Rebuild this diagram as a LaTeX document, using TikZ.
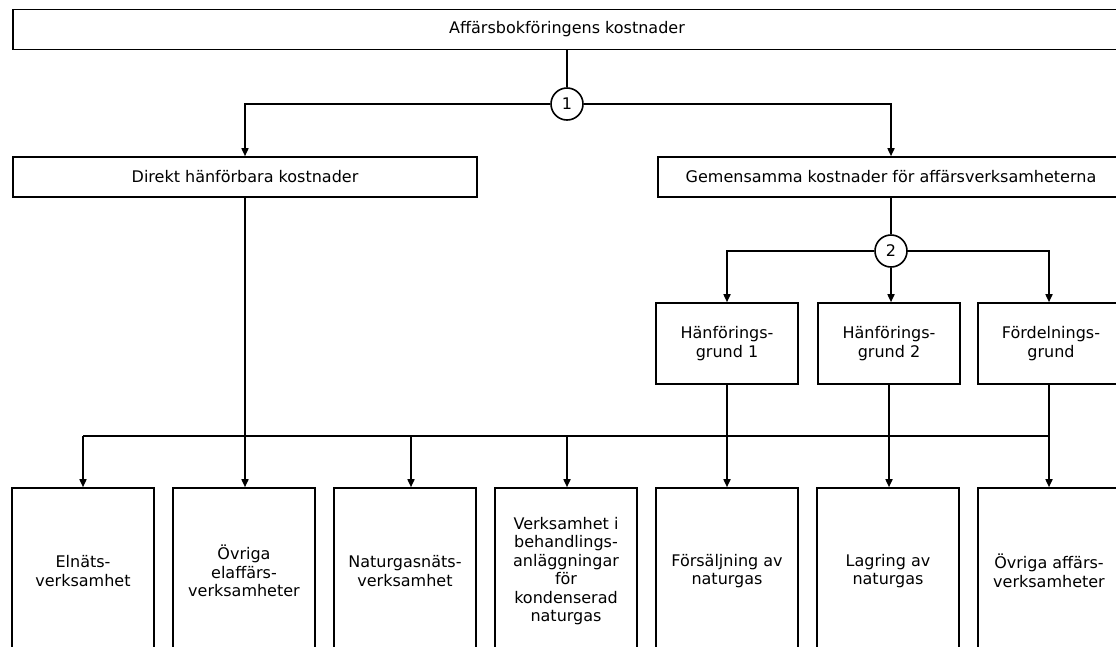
\documentclass[tikz,border=0pt]{standalone}
\usepackage{fontspec}
\setmainfont{DejaVu Sans}
\usetikzlibrary{positioning,arrows.meta,calc}

\begin{document}
\begin{tikzpicture}[
  x=1pt,y=-1pt,
  font=\fontsize{16}{18.5}\selectfont,
  >={Triangle[length=8pt,width=7pt]},
  line width=1.6pt,
  widebox/.style={draw,minimum height=40pt,inner sep=0pt},
  keybox/.style={draw,minimum width=142pt,minimum height=81pt,align=center,inner sep=0pt},
  unitbox/.style={draw,minimum width=142pt,minimum height=166pt,align=center,inner sep=0pt},
  stepnum/.style={draw,circle,fill=white,minimum size=32pt,inner sep=0pt}
]
\useasboundingbox (0,0) rectangle (1116,646);
\clip (0,0) rectangle (1116,646);
% total costs
\node[widebox,minimum width=1108pt] (total) at (567,29.5) {Affärsbokföringens kostnader};
\node[stepnum] (s1) at (567,104) {1};
% direct and common costs
\node[widebox,minimum width=464pt] (direct) at (245,177) {Direkt hänförbara kostnader};
\node[widebox,minimum width=466pt] (common) at (891,177) {Gemensamma kostnader för affärsverksamheterna};
\node[stepnum] (s2) at (891,251) {2};
% allocation keys
\node[keybox] (key1) at (727,343.5) {Hänförings-\\grund 1};
\node[keybox] (key2) at (889,343.5) {Hänförings-\\grund 2};
\node[keybox,minimum width=146pt] (key3) at (1051,343.5) {Fördelnings-\\grund};
% business units
\node[unitbox] (u1) at (83,571) {Elnäts-\\verksamhet};
\node[unitbox,right=17.4pt of u1] (u2) {Övriga\\elaffärs-\\verksamheter};
\node[unitbox,right=17.4pt of u2] (u3) {Naturgasnäts-\\verksamhet};
\node[unitbox,right=17.4pt of u3] (u4) {Verksamhet i\\behandlings-\\anläggningar\\för\\kondenserad\\naturgas};
\node[unitbox,right=17.4pt of u4] (u5) {Försäljning av\\naturgas};
\node[unitbox,right=17.4pt of u5] (u6) {Lagring av\\naturgas};
\node[unitbox,right=17.4pt of u6] (u7) {Övriga affärs-\\verksamheter};
\coordinate (bus) at (0,436);
% arrows top
\draw (total) -- (s1);
\draw[->] (s1) -| (direct);
\draw[->] (s1) -| (common);
\draw (common) -- (s2);
\draw[->] (s2) -| (key1);
\draw[->] (s2.south) -- (s2.south |- key2.north);
\draw[->] ([xshift=-2pt]s2.east) -| ([xshift=-2pt]key3.north);
% arrows to units
\draw (u1.north |- bus) -- ([xshift=-2pt]key3.south |- bus);
\draw[->] (u1.north |- bus) -- (u1.north);
\draw[->] (direct.south) -- (direct.south |- u2.north);
\draw[->] ([xshift=6pt]u3.north |- bus) -- ([xshift=6pt]u3.north);
\draw[->] ([xshift=1pt]u4.north |- bus) -- ([xshift=1pt]u4.north);
\draw[->] (key1.south) -- (key1.south |- u5.north);
\draw[->] (key2.south) -- (key2.south |- u6.north);
\draw[->] ([xshift=-2pt]key3.south) -- ([xshift=-2pt]key3.south |- u7.north);
\end{tikzpicture}
\end{document}
